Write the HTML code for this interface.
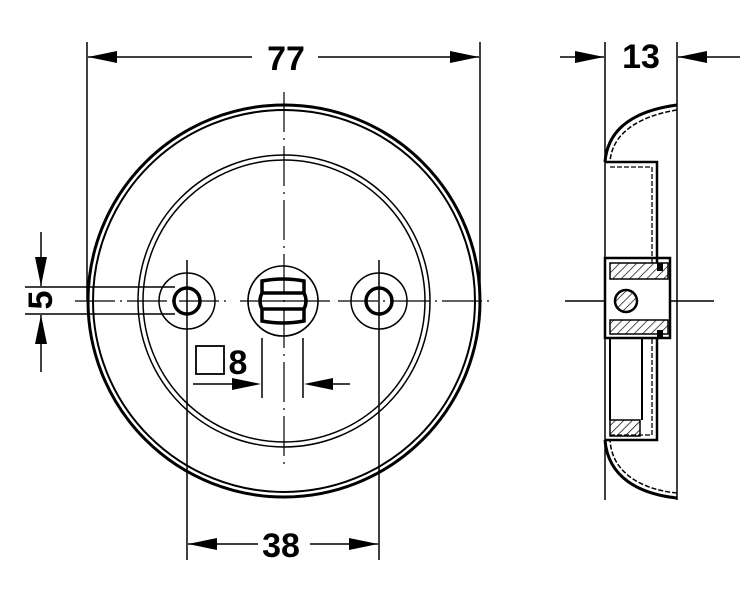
<!DOCTYPE html>
<html><head><meta charset="utf-8"><style>html,body{margin:0;padding:0;background:#fff}svg{display:block}</style></head>
<body>
<svg width="751" height="609" viewBox="0 0 751 609" xmlns="http://www.w3.org/2000/svg" font-family="Liberation Sans, sans-serif" font-weight="bold">
<defs>
<pattern id="h" width="6" height="6" patternUnits="userSpaceOnUse" patternTransform="rotate(45)"><line x1="0" y1="0" x2="0" y2="6" stroke="#000" stroke-width="1.4"/></pattern>
</defs>
<g stroke="#000" fill="none">
<line x1="87" y1="42" x2="87" y2="300" stroke-width="1.5"/>
<line x1="480" y1="42" x2="480" y2="300" stroke-width="1.5"/>
<line x1="88" y1="57" x2="252" y2="57" stroke-width="1.5"/>
<line x1="318" y1="57" x2="479" y2="57" stroke-width="1.5"/>
<circle cx="284" cy="301" r="196" stroke-width="3"/>
<circle cx="284" cy="301" r="191" stroke-width="2"/>
<circle cx="284" cy="301" r="146" stroke-width="1.5"/>
<circle cx="284" cy="301" r="141" stroke-width="1.5"/>
<line x1="75" y1="301" x2="230" y2="301" stroke-width="1.2" stroke-dasharray="40 5 2 5"/>
<line x1="240" y1="301" x2="330" y2="301" stroke-width="1.2"/>
<line x1="338" y1="301" x2="490" y2="301" stroke-width="1.2" stroke-dasharray="40 5 2 5"/>
<line x1="284" y1="92" x2="284" y2="470" stroke-width="1.2" stroke-dasharray="40 6 2 6"/>
<circle cx="187" cy="301" r="28" stroke-width="1.5"/>
<circle cx="187" cy="301" r="13" stroke-width="3.5"/>
<circle cx="379" cy="301" r="28" stroke-width="1.5"/>
<circle cx="379" cy="301" r="13" stroke-width="3.5"/>
<line x1="187" y1="260" x2="187" y2="560" stroke-width="1.5"/>
<line x1="379" y1="260" x2="379" y2="560" stroke-width="1.5"/>
<circle cx="283" cy="301" r="35" stroke-width="1.6"/>
<path d="M262 281 Q283 277 304 281 V293 Q308 301 304 309 V321 Q283 325 262 321 V309 Q258 301 262 293 Z M262 293 H304 M262 309 H304" stroke-width="3.5"/>
<line x1="262" y1="338" x2="262" y2="398" stroke-width="1.5"/>
<line x1="303" y1="338" x2="303" y2="398" stroke-width="1.5"/>
<line x1="193" y1="384" x2="245" y2="384" stroke-width="1.5"/>
<line x1="320" y1="384" x2="350" y2="384" stroke-width="1.5"/>
<rect x="196" y="346" width="28" height="28" stroke-width="1.8"/>
<line x1="25" y1="287" x2="175" y2="287" stroke-width="1.5"/>
<line x1="25" y1="314" x2="175" y2="314" stroke-width="1.5"/>
<line x1="41" y1="232" x2="41" y2="286" stroke-width="1.5"/>
<line x1="41" y1="315" x2="41" y2="372" stroke-width="1.5"/>
<line x1="188" y1="544" x2="258" y2="544" stroke-width="1.5"/>
<line x1="310" y1="544" x2="378" y2="544" stroke-width="1.5"/>
<line x1="605" y1="42" x2="605" y2="500" stroke-width="1.5"/>
<line x1="677" y1="42" x2="677" y2="500" stroke-width="1.5"/>
<line x1="560" y1="57" x2="604" y2="57" stroke-width="1.5"/>
<line x1="678" y1="57" x2="740" y2="57" stroke-width="1.5"/>
<line x1="565" y1="301" x2="605" y2="301" stroke-width="1.4"/>
<line x1="670" y1="301" x2="714" y2="301" stroke-width="1.4"/>
<path d="M677 105 C640 110 608 125 605 162" stroke-width="3"/>
<path d="M677 110 C645 115 612 130 610 162" stroke-width="1.5" stroke-dasharray="5 2"/>
<path d="M605 162 H657 V263" stroke-width="2.5"/>
<path d="M610 167 H652 V263" stroke-width="1.3" stroke-dasharray="5 2"/>
<path d="M605 440 H657 V338" stroke-width="2.5"/>
<path d="M610 435 H652 V338" stroke-width="1.3" stroke-dasharray="5 2"/>
<path d="M677 498 C640 494 608 478 605 440" stroke-width="3"/>
<path d="M677 493 C645 490 612 475 610 440" stroke-width="1.5" stroke-dasharray="5 2"/>
<rect x="605" y="258" width="65" height="80" stroke-width="2.5"/>
<rect x="610" y="263" width="58" height="16" fill="url(#h)" stroke-width="1.5"/>
<rect x="610" y="320" width="58" height="14" fill="url(#h)" stroke-width="1.5"/>
<rect x="610" y="420" width="30" height="16" fill="url(#h)" stroke-width="1.5"/>
<line x1="610" y1="338" x2="610" y2="420" stroke-width="2"/>
<line x1="642" y1="338" x2="642" y2="420" stroke-width="2"/>
<circle cx="626" cy="301" r="11" fill="url(#h)" stroke-width="2.5"/>
</g>
<g fill="#000">
<polygon points="88,57 117,51 117,63"/>
<polygon points="479,57 450,51 450,63"/>
<polygon points="188,544 217,538 217,550"/>
<polygon points="378,544 349,538 349,550"/>
<polygon points="261,384 232,378 232,390"/>
<polygon points="304,384 333,378 333,390"/>
<polygon points="41,286 35,257 47,257"/>
<polygon points="41,315 35,344 47,344"/>
<polygon points="604,57 575,51 575,63"/>
<polygon points="678,57 707,51 707,63"/>
<rect x="657" y="263" width="6" height="8"/>
<rect x="657" y="330" width="6" height="8"/>
</g>
<g font-size="34" text-anchor="middle">
<text x="286" y="70">77</text>
<text x="281" y="557">38</text>
<text x="238" y="374">8</text>
<text x="641" y="68">13</text>
<text transform="translate(52,300) rotate(-90)">5</text>
</g>
</svg>
</body></html>
